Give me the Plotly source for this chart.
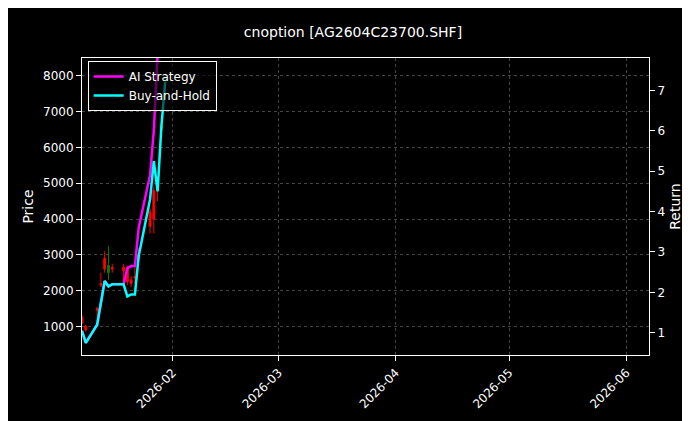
import plotly.graph_objects as go

dates = ["2026-01-08","2026-01-09","2026-01-12","2026-01-13","2026-01-14","2026-01-15","2026-01-16",
         "2026-01-19","2026-01-20","2026-01-21","2026-01-22","2026-01-23","2026-01-26","2026-01-27",
         "2026-01-28","2026-01-29","2026-01-30"]
open_ = [1250, 1000, 1500, 2200, 2900, 2500, 2650, 2650, 2600, 2300, 2400, 3000, 4200, 4800, 5000, 6500, 7800]
high_ = [1300, 1050, 1550, 2500, 3100, 3250, 2750, 2750, 2700, 2400, 2700, 3200, 4300, 4900, 5200, 6700, 8000]
low_  = [1150,  850, 1200, 2100, 2500, 2300, 2500, 2200, 2150, 2100, 2200, 2800, 3600, 3600, 4500, 6300, 7500]
close_= [1100,  900, 1450, 2150, 2600, 2700, 2600, 2550, 2250, 2200, 2350, 2900, 3800, 4000, 4800, 6600, 7900]
ret_ai = [1.05, 0.75, 1.2, 1.7, 2.28, 2.15, 2.2, 2.2, 2.6, 2.65, 2.65, 3.6, 4.9, 6.0, 7.9, 8.5, 9.0]
ret_bh = [1.05, 0.75, 1.2, 1.7, 2.28, 2.15, 2.2, 2.2, 1.9, 1.95, 1.95, 2.9, 4.3, 5.25, 4.5, 6.1, 7.2]

fig = go.Figure()
fig.add_trace(go.Candlestick(x=dates, open=open_, high=high_, low=low_, close=close_,
    increasing=dict(line=dict(color="green", width=1), fillcolor="green"),
    decreasing=dict(line=dict(color="red", width=1), fillcolor="red"),
    whiskerwidth=0, showlegend=False, yaxis="y"))
fig.add_trace(go.Scatter(x=dates, y=ret_ai, mode="lines", name="AI Strategy",
    line=dict(color="#ff00ff", width=2.5), yaxis="y2"))
fig.add_trace(go.Scatter(x=dates, y=ret_bh, mode="lines", name="Buy-and-Hold",
    line=dict(color="#00ffff", width=2.5), yaxis="y2"))

grid = dict(showgrid=True, gridcolor="#444", griddash="dot", gridwidth=0.6)
fig.update_layout(
    width=690, height=421, paper_bgcolor="black", plot_bgcolor="black",
    font=dict(family="DejaVu Sans", color="white", size=12),
    title=dict(text="cnoption [AG2604C23700.SHF]", x=0.5, xanchor="center", y=0.955, font=dict(size=14)),
    margin=dict(l=74, r=49, t=50, b=74, autoexpand=False),
    xaxis=dict(type="date", range=["2026-01-08", "2026-06-07"], rangeslider=dict(visible=False),
               automargin=False,
               tickvals=["2026-02-01","2026-03-01","2026-04-01","2026-05-01","2026-06-01"],
               ticktext=["2026-02","2026-03","2026-04","2026-05","2026-06"], tickangle=-45,
               ticks="outside", tickcolor="white", showline=True, linecolor="white", mirror=True, **grid),
    yaxis=dict(title=dict(text="Price", standoff=6), range=[200, 8500], automargin=False,
               tickvals=[1000,2000,3000,4000,5000,6000,7000,8000],
               ticks="outside", tickcolor="white", showline=True, linecolor="white", mirror=True, **grid),
    yaxis2=dict(title=dict(text="Return", standoff=6), overlaying="y", side="right", range=[0.45, 7.8],
                automargin=False, tickvals=[1,2,3,4,5,6,7], ticks="outside", tickcolor="white", showgrid=False),
    legend=dict(x=0.01, y=0.99, xanchor="left", yanchor="top", bgcolor="rgba(0,0,0,0.6)",
                bordercolor="white", borderwidth=1, font=dict(size=12)),
)
fig.write_html("out.html")
